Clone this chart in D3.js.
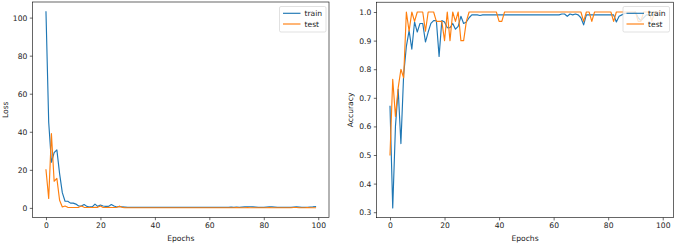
<!DOCTYPE html>
<html><head><meta charset="utf-8">
<script src="https://cdn.jsdelivr.net/npm/d3@7"></script>
<style>body{margin:0;background:#fff}svg{display:block}text{font-family:"DejaVu Sans",sans-serif}</style>
</head><body>
<svg id="c" width="676" height="244"></svg>
<script>
const epochs = d3.range(0, 100);
const trainLoss = [103,45,24,29,30.5,18,8,3.5,3.5,2.5,
 2.5,2,1,1,1.8,0.8,0.5,0.5,2,0.8,
 1.5,1,0.8,0.8,1.8,1,0.5,0.8,0.5,0.4,
 0.3,0.3,0.3,0.3,0.3,0.3,0.3,0.3,0.3,0.3,
 0.3,0.3,0.3,0.3,0.3,0.3,0.3,0.3,0.3,0.3,
 0.3,0.3,0.3,0.3,0.3,0.3,0.3,0.3,0.3,0.3,
 0.3,0.3,0.3,0.3,0.3,0.3,0.3,0.3,0.4,0.3,
 0.4,0.3,0.4,0.5,0.6,0.6,0.5,0.4,0.3,0.3,
 0.3,0.4,0.5,0.5,0.4,0.3,0.3,0.3,0.3,0.3,
 0.3,0.4,0.5,0.4,0.3,0.3,0.3,0.4,0.5,0.7];
const testLoss = [20,5,39,14,15.5,4,0.5,1,0.3,0.2,
 0.2,0.2,0.3,1,0.3,0.2,0.2,0.2,0.3,0.3,
 1,0.2,0.2,0.3,0.2,0.2,0.3,0.8,0.3,0.1,
 0.1,0.1,0.1,0.1,0.1,0.1,0.1,0.1,0.1,0.1,
 0.1,0.1,0.1,0.1,0.1,0.1,0.1,0.1,0.1,0.1,
 0.1,0.1,0.1,0.1,0.1,0.1,0.1,0.1,0.1,0.1,
 0.1,0.1,0.1,0.1,0.1,0.1,0.1,0.1,0.1,0.1,
 0.2,0.1,0.1,0.1,0.2,0.1,0.1,0.1,0.1,0.1,
 0.1,0.1,0.2,0.1,0.1,0.1,0.1,0.1,0.1,0.1,
 0.1,0.2,0.2,0.1,0.1,0.1,0.2,0.1,0.1,0.1];
const trainAcc = [0.67,0.315,0.6,0.73,0.54,0.78,0.88,0.935,0.87,0.965,
 0.93,0.96,0.96,0.895,0.93,0.96,0.97,0.97,0.845,0.97,
 0.965,0.945,0.945,0.96,0.94,0.95,0.985,0.96,0.965,0.98,
 0.99,0.99,0.99,0.988,0.99,0.99,0.99,0.99,0.99,0.99,
 0.99,0.99,0.99,0.99,0.99,0.99,0.99,0.99,0.99,0.99,
 0.99,0.99,0.99,0.99,0.99,0.99,0.99,0.99,0.99,0.99,
 0.99,0.99,0.99,0.993,0.993,0.985,0.993,0.99,0.993,0.99,
 0.98,0.955,0.99,0.99,0.99,0.99,0.99,0.99,0.99,0.99,
 0.99,0.99,0.99,0.965,0.985,0.99,0.995,0.995,0.995,0.995,
 1.0,0.98,0.97,0.98,0.99,0.99,0.99,0.99,0.99,0.99];
const testAcc = [0.5,0.765,0.635,0.735,0.8,0.77,1.0,0.933,1.0,0.967,
 1.0,1.0,1.0,0.933,1.0,1.0,1.0,0.967,0.967,0.967,
 0.9,1.0,0.9,1.0,0.967,1.0,0.9,0.9,0.967,1.0,
 1.0,1.0,1.0,1.0,1.0,1.0,1.0,1.0,1.0,1.0,
 0.967,0.967,1.0,1.0,1.0,1.0,1.0,1.0,1.0,1.0,
 1.0,1.0,1.0,1.0,1.0,1.0,1.0,1.0,1.0,1.0,
 1.0,1.0,1.0,1.0,1.0,1.0,1.0,1.0,1.0,1.0,
 1.0,0.967,1.0,1.0,0.967,1.0,1.0,1.0,1.0,1.0,
 1.0,1.0,0.967,1.0,1.0,1.0,1.0,1.0,1.0,1.0,
 1.0,0.967,0.967,1.0,1.0,1.0,0.967,1.0,1.0,1.0];
const xTicks = [0,20,40,60,80,100];
const lossTicks = [0,20,40,60,80,100];
const accTicks = [0.3,0.4,0.5,0.6,0.7,0.8,0.9,1.0];
const seriesNames = ["train","test"];
const colors = ["#1f77b4","#ff7f0e"];

const svg = d3.select("#c");
const FS = 7.6;

function panel(o) {
  const g = svg.append("g");
  const x = d3.scaleLinear().domain([-4.95, 103.95]).range([o.left, o.right]);
  const y = d3.scaleLinear().domain(o.ydom).range([o.bottom, o.top]);
  const line = d3.line().x((d,i)=>x(epochs[i])).y(d=>y(d));
  o.series.forEach((s,k)=>{
    g.append("path").datum(s).attr("d", line).attr("fill","none")
      .attr("stroke", colors[k]).attr("stroke-width",1.15).attr("stroke-linejoin","round").attr("stroke-linecap","square");
  });
  const ax = g.append("g").attr("transform",`translate(0,${o.bottom})`)
    .call(d3.axisBottom(x).tickValues(xTicks).tickSize(2.7).tickPadding(2.5).tickFormat(d3.format("d")));
  const ay = g.append("g").attr("transform",`translate(${o.left},0)`)
    .call(d3.axisLeft(y).tickValues(o.yticks).tickSize(2.7).tickPadding(2.5).tickFormat(o.yfmt));
  [ax, ay].forEach(a=>{
    a.select(".domain").remove();
    a.selectAll("line").attr("stroke","#000").attr("stroke-width",0.6);
    a.selectAll("text").attr("font-size",FS).attr("fill","#222").attr("font-family","DejaVu Sans");
  });
  g.append("rect").attr("x",o.left).attr("y",o.top).attr("width",o.right-o.left).attr("height",o.bottom-o.top)
    .attr("fill","none").attr("stroke","#000").attr("stroke-width",0.6);
  g.append("text").attr("x",(o.left+o.right)/2).attr("y",240.5).attr("text-anchor","middle")
    .attr("font-size",FS).attr("fill","#222").text("Epochs");
  g.append("text").attr("transform",`translate(${o.ylabX},${(o.top+o.bottom)/2}) rotate(-90)`)
    .attr("text-anchor","middle").attr("font-size",FS).attr("fill","#222").text(o.ylabel);
  // legend
  const lg = g.append("g");
  lg.append("rect").attr("x",o.legX).attr("y",6.5).attr("width",46.5).attr("height",25.5).attr("rx",1.5)
    .attr("fill","#fff").attr("fill-opacity",0.8).attr("stroke","#cccccc").attr("stroke-width",0.6);
  seriesNames.forEach((n,k)=>{
    const yy = 13.3 + k*10.7;
    lg.append("line").attr("x1",o.legX+3.5).attr("x2",o.legX+21).attr("y1",yy).attr("y2",yy)
      .attr("stroke",colors[k]).attr("stroke-width",1.15);
    lg.append("text").attr("x",o.legX+25).attr("y",yy+2.8).attr("font-size",FS).attr("fill","#222").text(n);
  });
}

panel({left:32.5,right:329,top:2,bottom:217.5,ydom:[-5.05,108.2],yticks:lossTicks,yfmt:d3.format("d"),
  series:[trainLoss,testLoss],ylabel:"Loss",ylabX:7.5,legX:279.5});
panel({left:376.5,right:673.5,top:2.2,bottom:217.7,ydom:[0.2808,1.0343],yticks:accTicks,yfmt:d3.format(".1f"),
  series:[trainAcc,testAcc],ylabel:"Accuracy",ylabX:352.5,legX:623});
</script>
</body></html>
